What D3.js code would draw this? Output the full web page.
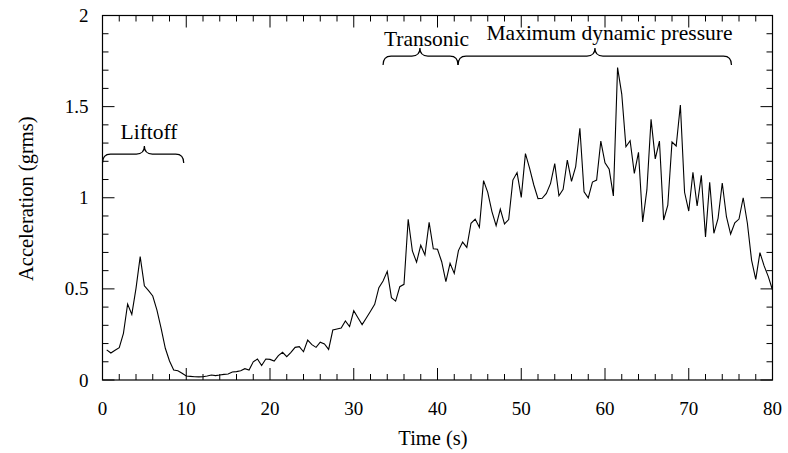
<!DOCTYPE html>
<html>
<head>
<meta charset="utf-8">
<script src="https://cdn.jsdelivr.net/npm/d3@7"></script>
<style>
  body { margin: 0; background: #fff; }
  text { font-family: "Liberation Serif", "Times New Roman", serif; fill: #000; }
</style>
</head>
<body>
<div id="chart-container"></div>
<script>
// time (s) of each sample
const times = [
  0.5, 1, 1.5, 2, 2.5, 3, 3.5, 4, 4.5, 5, 5.5, 6, 6.5, 7, 7.5, 8, 8.5, 9, 9.5, 10,
  10.5, 11, 11.5, 12, 12.5, 13, 13.5, 14, 14.5, 15, 15.5, 16, 16.5, 17, 17.5, 18, 18.5, 19, 19.5, 20,
  20.5, 21, 21.5, 22, 22.5, 23, 23.5, 24, 24.5, 25, 25.5, 26, 26.5, 27, 27.5, 28, 28.5, 29, 29.5, 30,
  30.5, 31, 31.5, 32, 32.5, 33, 33.5, 34, 34.5, 35, 35.5, 36, 36.5, 37, 37.5, 38, 38.5, 39, 39.5, 40,
  40.5, 41, 41.5, 42, 42.5, 43, 43.5, 44, 44.5, 45, 45.5, 46, 46.5, 47, 47.5, 48, 48.5, 49, 49.5, 50,
  50.5, 51, 51.5, 52, 52.5, 53, 53.5, 54, 54.5, 55, 55.5, 56, 56.5, 57, 57.5, 58, 58.5, 59, 59.5, 60,
  60.5, 61, 61.5, 62, 62.5, 63, 63.5, 64, 64.5, 65, 65.5, 66, 66.5, 67, 67.5, 68, 68.5, 69, 69.5, 70,
  70.5, 71, 71.5, 72, 72.5, 73, 73.5, 74, 74.5, 75, 75.5, 76, 76.5, 77, 77.5, 78, 78.5, 79, 79.5, 80
];

// acceleration (grms)
const grms = [
  0.165, 0.148, 0.163, 0.177, 0.256, 0.417, 0.36, 0.503, 0.677, 0.517, 0.49, 0.461, 0.384, 0.283, 0.174, 0.104, 0.055, 0.051, 0.037, 0.022,
  0.02, 0.018, 0.017, 0.018, 0.022, 0.027, 0.024, 0.027, 0.031, 0.033, 0.044, 0.046, 0.051, 0.062, 0.055, 0.1, 0.115, 0.079, 0.115, 0.113,
  0.104, 0.134, 0.152, 0.128, 0.152, 0.179, 0.183, 0.155, 0.219, 0.194, 0.179, 0.207, 0.198, 0.168, 0.274, 0.28, 0.285, 0.324, 0.293, 0.38,
  0.342, 0.304, 0.34, 0.377, 0.415, 0.507, 0.543, 0.596, 0.452, 0.433, 0.512, 0.525, 0.882, 0.708, 0.647, 0.739, 0.686, 0.865, 0.72, 0.717,
  0.649, 0.54, 0.64, 0.585, 0.71, 0.757, 0.728, 0.86, 0.883, 0.838, 1.094, 1.03, 0.924, 0.847, 0.938, 0.856, 0.88, 1.097, 1.138, 1.002,
  1.242, 1.161, 1.07, 0.995, 0.997, 1.024, 1.079, 1.187, 1.011, 1.046, 1.207, 1.09, 1.171, 1.381, 1.032, 0.999, 1.086, 1.097, 1.311, 1.192,
  1.156, 1.01, 1.714, 1.569, 1.28, 1.313, 1.134, 1.249, 0.867, 1.043, 1.43, 1.213, 1.311, 0.878, 0.96, 1.306, 1.284, 1.509, 1.03, 0.927,
  1.139, 0.955, 1.123, 0.785, 1.085, 0.805, 0.887, 1.081, 0.896, 0.801, 0.863, 0.883, 1.0, 0.86, 0.658, 0.552, 0.699, 0.626, 0.567, 0.494
];

const xTicks = [0, 10, 20, 30, 40, 50, 60, 70, 80];
const yTicks = [0, 0.5, 1, 1.5, 2];
const yTickLabels = ["0", "0.5", "1", "1.5", "2"];

// flight phase braces: start, tip, end (s), label
const phaseLabels = ["Liftoff", "Transonic", "Maximum dynamic pressure"];
const phaseStart = [0, 33.5, 42.45];
const phaseTip = [5, 37.9, 58.8];
const phaseEnd = [9.7, 42.45, 75.1];
const phaseLevel = [1.19, 1.728, 1.728];

const margin = { top: 15.5, right: 15.5, bottom: 73, left: 102.5 },
  width = 788 - margin.left - margin.right,
  height = 453 - margin.top - margin.bottom;

const svg = d3.select("#chart-container").append("svg")
  .attr("width", 788)
  .attr("height", 453);

let x = d3.scaleLinear().domain([0, 80]).range([margin.left, margin.left + width]);
let y = d3.scaleLinear().domain([0, 2]).range([margin.top + height, margin.top]);

let g = svg.append("g");

// ticks on all four sides, pointing in
let minorX = d3.range(0, 81, 2);
let minorY = d3.range(0, 21).map(d => d / 10);

function tickLen(isMajor) { return isMajor ? 12 : 6; }

minorX.forEach(t => {
  let L = tickLen(t % 10 == 0);
  g.append("line").attr("x1", x(t)).attr("x2", x(t))
    .attr("y1", y(0)).attr("y2", y(0) - L)
    .attr("stroke", "#000").attr("stroke-width", 1);
  g.append("line").attr("x1", x(t)).attr("x2", x(t))
    .attr("y1", y(2)).attr("y2", y(2) + L)
    .attr("stroke", "#000").attr("stroke-width", 1);
});

minorY.forEach(v => {
  let L = tickLen(Math.round(v * 10) % 5 == 0);
  g.append("line").attr("x1", x(0)).attr("x2", x(0) + L)
    .attr("y1", y(v)).attr("y2", y(v))
    .attr("stroke", "#000").attr("stroke-width", 1);
  g.append("line").attr("x1", x(80)).attr("x2", x(80) - L)
    .attr("y1", y(v)).attr("y2", y(v))
    .attr("stroke", "#000").attr("stroke-width", 1);
});

// frame
g.append("rect")
  .attr("x", x(0)).attr("y", y(2))
  .attr("width", x(80) - x(0)).attr("height", y(0) - y(2))
  .attr("fill", "none").attr("stroke", "#000").attr("stroke-width", 1.2);

// tick labels
g.selectAll(".xlab").data(xTicks).enter().append("text")
  .attr("class", "xlab")
  .attr("x", d => x(d)).attr("y", y(0) + 35)
  .attr("text-anchor", "middle")
  .attr("font-size", 19)
  .text(d => d);

g.selectAll(".ylab").data(yTicks).enter().append("text")
  .attr("class", "ylab")
  .attr("x", x(0) - 14).attr("y", d => y(d) + 6.5)
  .attr("text-anchor", "end")
  .attr("font-size", 19)
  .text((d, i) => yTickLabels[i]);

// axis titles
svg.append("text")
  .attr("x", 433).attr("y", 445)
  .attr("text-anchor", "middle")
  .attr("font-size", 20.5)
  .text("Time (s)");

svg.append("text")
  .attr("transform", "translate(33," + (y(1) + 1) + ") rotate(-90)")
  .attr("text-anchor", "middle")
  .attr("font-size", 20.5)
  .text("Acceleration (grms)");

// the signal
let line = d3.line()
  .x((d, i) => x(times[i]))
  .y(d => y(d));

g.append("path")
  .datum(grms)
  .attr("fill", "none")
  .attr("stroke", "#000")
  .attr("stroke-width", 1.1)
  .attr("stroke-linejoin", "miter")
  .attr("d", line);

// braces
function bracePath(x1, xm, x2, yb) {
  let r = 8, yh = yb - 9, yt = yb - 17;
  return "M" + x1 + "," + yb +
    " Q" + x1 + "," + yh + " " + (x1 + r) + "," + yh +
    " L" + (xm - r) + "," + yh +
    " Q" + xm + "," + yh + " " + xm + "," + yt +
    " Q" + xm + "," + yh + " " + (xm + r) + "," + yh +
    " L" + (x2 - r) + "," + yh +
    " Q" + x2 + "," + yh + " " + x2 + "," + yb;
}

phaseLabels.forEach((lab, i) => {
  g.append("path")
    .attr("d", bracePath(x(phaseStart[i]), x(phaseTip[i]), x(phaseEnd[i]), y(phaseLevel[i])))
    .attr("fill", "none")
    .attr("stroke", "#000")
    .attr("stroke-width", 1.2);
});

// labels above the braces
const labelX = [149, 426.5, 609.5];
const labelY = [139, 45.5, 39.5];
phaseLabels.forEach((lab, i) => {
  g.append("text")
    .attr("x", labelX[i]).attr("y", labelY[i])
    .attr("text-anchor", "middle")
    .attr("font-size", 21.5)
    .text(lab);
});
</script>
</body>
</html>
